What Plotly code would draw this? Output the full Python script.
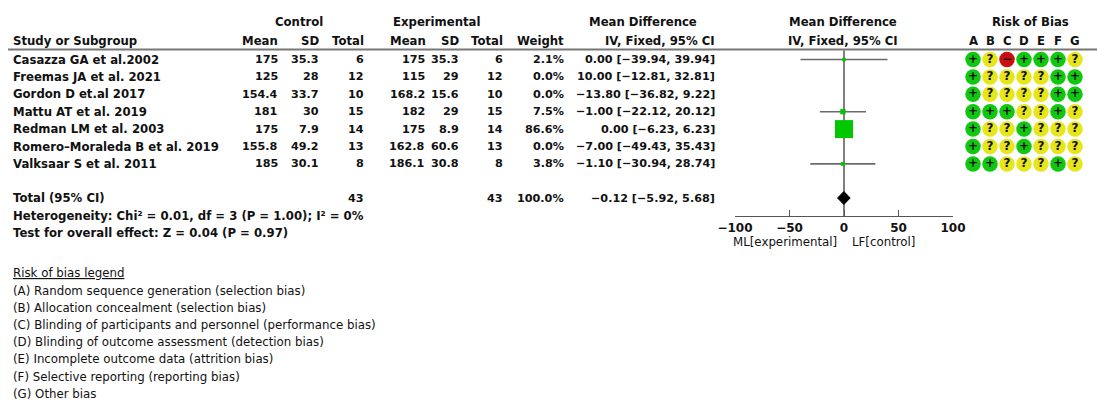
import math
import plotly.graph_objects as go

# ---------------- data ----------------
studies = ["Casazza GA et al.2002", "Freemas JA et al. 2021", "Gordon D et.al 2017",
           "Mattu AT et al. 2019", "Redman LM et al. 2003", "Romero\u2013Moraleda B et al. 2019",
           "Valksaar S et al. 2011"]
ctrl_mean = ["175", "125", "154.4", "181", "175", "155.8", "185"]
ctrl_sd = ["35.3", "28", "33.7", "30", "7.9", "49.2", "30.1"]
ctrl_n = [6, 12, 10, 15, 14, 13, 8]
exp_mean = ["175", "115", "168.2", "182", "175", "162.8", "186.1"]
exp_sd = ["35.3", "29", "15.6", "29", "8.9", "60.6", "30.8"]
exp_n = [6, 12, 10, 15, 14, 13, 8]
weight = [2.1, 0.0, 0.0, 7.5, 86.6, 0.0, 3.8]
md = [0.00, 10.00, -13.80, -1.00, 0.00, -7.00, -1.10]
ci_lo = [-39.94, -12.81, -36.82, -22.12, -6.23, -49.43, -30.94]
ci_hi = [39.94, 32.81, 9.22, 20.12, 6.23, 35.43, 28.74]

total_ctrl_n = 43
total_exp_n = 43
total_weight = 100.0
total_md = -0.12
total_lo = -5.92
total_hi = 5.68

heterogeneity = "Heterogeneity: Chi\u00b2 = 0.01, df = 3 (P = 1.00); I\u00b2 = 0%"
overall = "Test for overall effect: Z = 0.04 (P = 0.97)"

rob_domains = ["A", "B", "C", "D", "E", "F", "G"]
rob = ["+?-+++?", "+????++", "+????++", "+++??+?", "+??+???", "+??+???", "++???+?"]
rob_legend = ["(A) Random sequence generation (selection bias)",
              "(B) Allocation concealment (selection bias)",
              "(C) Blinding of participants and personnel (performance bias)",
              "(D) Blinding of outcome assessment (detection bias)",
              "(E) Incomplete outcome data (attrition bias)",
              "(F) Selective reporting (reporting bias)",
              "(G) Other bias"]

axis_ticks = [-100, -50, 0, 50, 100]

# ---------------- layout constants ----------------
W, H = 1097, 401
FONT = "DejaVu Sans"
BOLD_SIZE = 11.7
NUM_SIZE = 11.2
REG_SIZE = 11.8
ROW0, DY = 59.5, 17.4
row_y = [ROW0 + DY * i for i in range(len(studies))]
y_total, y_het, y_test = 198, 215.5, 233
AXIS_Y = 216

def fmt(v):
    s = f"{abs(v):.2f}"
    return ("\u2212" + s) if v < 0 else s

fig = go.Figure()
ann = []

def txt(x, y, s, anchor="right", bold=True, color="#111", size=None):
    if size is None:
        size = BOLD_SIZE if bold else REG_SIZE
    ann.append(dict(x=x, y=y, xref="x2", yref="y", text=s, showarrow=False,
                    xanchor=anchor, yanchor="middle", borderpad=0,
                    font=dict(family=FONT, size=size, color=color,
                              weight=700 if bold else 400)))

def num(x, y, s):
    txt(x, y, s, "right", True, size=NUM_SIZE)

# headers
txt(299, 22, "Control", "center")
txt(437, 22, "Experimental", "center")
txt(643, 22, "Mean Difference", "center")
txt(843, 22, "Mean Difference", "center")
txt(1030, 22, "Risk of Bias", "center")
txt(12, 41, "Study or Subgroup", "left")
for xr, s in [(279, "Mean"), (320, "SD"), (365, "Total"), (427, "Mean"), (460, "SD"),
              (504, "Total"), (565, "Weight"), (716, "IV, Fixed, 95% CI")]:
    txt(xr, 41, s)
txt(843, 41, "IV, Fixed, 95% CI", "center")
for i, d in enumerate(rob_domains):
    txt(973 + 17 * i, 41, d, "center")

# rows
for i, s in enumerate(studies):
    y = row_y[i]
    txt(12, y, s, "left")
    num(279, y, ctrl_mean[i]); num(320, y, ctrl_sd[i]); num(365, y, str(ctrl_n[i]))
    num(426, y, exp_mean[i]); num(460, y, exp_sd[i]); num(504, y, str(exp_n[i]))
    num(565, y, f"{weight[i]:.1f}%")
    num(716, y, f"{fmt(md[i])} [{fmt(ci_lo[i])}, {fmt(ci_hi[i])}]")

txt(12, y_total, "Total (95% CI)", "left")
num(365, y_total, str(total_ctrl_n))
num(504, y_total, str(total_exp_n))
num(565, y_total, f"{total_weight:.1f}%")
num(716, y_total, f"{fmt(total_md)} [{fmt(total_lo)}, {fmt(total_hi)}]")
txt(12, y_het, heterogeneity, "left")
txt(12, y_test, overall, "left")

# legend
txt(12, 273, "<u>Risk of bias legend</u>", "left", bold=False)
for i, s in enumerate(rob_legend):
    txt(12, 290.5 + 17.2 * i, s, "left", bold=False)

# axis labels below forest plot
txt(838, 242, "ML[experimental]", "right", bold=False)
txt(851, 242, "LF[control]", "left", bold=False)

# ---------------- forest plot marks ----------------
lx, ly = [], []
for i in range(len(studies)):
    if weight[i] > 0:
        lx += [ci_lo[i], ci_hi[i], None]
        ly += [row_y[i], row_y[i], None]
fig.add_trace(go.Scatter(x=lx, y=ly, mode="lines", line=dict(color="#6a6a6a", width=1.6),
                         xaxis="x", yaxis="y", hoverinfo="skip", showlegend=False))
# diamond
fig.add_trace(go.Scatter(x=[total_lo, total_md, total_hi, total_md, total_lo],
                         y=[y_total, y_total - 6.5, y_total, y_total + 6.5, y_total],
                         mode="lines", fill="toself", fillcolor="#000000",
                         line=dict(color="#000000", width=1),
                         xaxis="x", yaxis="y", showlegend=False, hoverinfo="skip"))
sx = [md[i] for i in range(len(studies)) if weight[i] > 0]
sy = [row_y[i] for i in range(len(studies)) if weight[i] > 0]
ss = [max(3.5, 18 * math.sqrt(weight[i] / max(weight))) for i in range(len(studies)) if weight[i] > 0]
fig.add_trace(go.Scatter(x=sx, y=sy, mode="markers",
                         marker=dict(symbol="square", size=ss, color="#00c800", opacity=1,
                                     line=dict(color="#00c800", width=0)),
                         xaxis="x", yaxis="y", showlegend=False, hoverinfo="skip"))

# ---------------- risk of bias circles ----------------
cmap = {"+": "#10c810", "?": "#e6e61a", "-": "#c81010"}
cx, cy, cc, ct = [], [], [], []
for i, r in enumerate(rob):
    for j, ch in enumerate(r):
        cx.append(973 + 17 * j)
        cy.append(row_y[i])
        cc.append(cmap[ch])
        ct.append({"+": "+", "?": "?", "-": "\u2212"}[ch])
fig.add_trace(go.Scatter(x=cx, y=cy, mode="markers+text", text=ct,
                         textposition="middle center",
                         textfont=dict(family=FONT, size=12, color="#111", weight=700),
                         marker=dict(size=15.5, color=cc, line=dict(width=0)),
                         xaxis="x2", yaxis="y", showlegend=False, hoverinfo="skip"))

shapes = [
    dict(type="line", xref="x2", yref="y", x0=8, x1=1097, y0=49.5, y1=49.5,
         line=dict(color="#777", width=2.2)),
    dict(type="line", xref="x", yref="y", x0=0, x1=0, y0=50.5, y1=AXIS_Y,
         line=dict(color="#555", width=1.5), layer="below"),
]

fig.update_layout(
    width=W, height=H, margin=dict(l=0, r=0, t=0, b=0, autoexpand=False),
    paper_bgcolor="white", plot_bgcolor="rgba(0,0,0,0)",
    annotations=ann, shapes=shapes, showlegend=False, hovermode=False,
    xaxis=dict(domain=[735 / W, 953 / W], range=[-100, 100], anchor="free",
               position=1 - AXIS_Y / H, tickvals=axis_ticks, ticks="inside",
               ticklen=6, tickwidth=1.2, tickcolor="#555", showline=True,
               linecolor="#555", linewidth=1.3, showgrid=False, zeroline=False,
               automargin=False,
               tickfont=dict(family=FONT, size=12, color="#111", weight=700)),
    xaxis2=dict(domain=[0, 1], range=[0, W], visible=False, anchor="y", automargin=False),
    yaxis=dict(domain=[0, 1], range=[H, 0], visible=False, automargin=False),
)

fig.write_html("out.html", config={"displayModeBar": False},
               post_script="document.body.style.margin='0';document.body.style.overflow='hidden';")
